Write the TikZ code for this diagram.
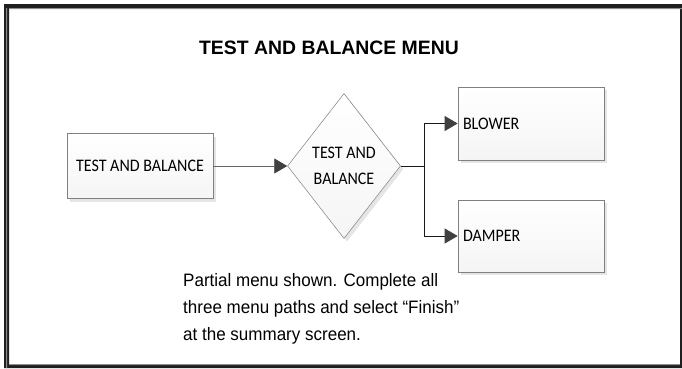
\documentclass[tikz,border=0pt]{standalone}
\usepackage{fontspec}
\setmainfont{Liberation Sans}
\newfontfamily\boxfont[FakeStretch=0.91]{Carlito}
\newfontfamily\notefont[FakeStretch=0.945]{Liberation Sans}
\usetikzlibrary{arrows.meta,shapes.geometric,shadows}
\tikzset{
  x=1pt,y=-1pt,
  softshadow/.style={general shadow={shadow xshift=3pt,shadow yshift=-3pt,fill=black!10,draw=none}},
  boxbase/.style={draw=black!50,line width=0.7pt,top color=white,bottom color=black!4,minimum width=146pt,inner sep=0pt,softshadow,font=\boxfont\fontsize{17.6}{19}\selectfont,text=black},
  flowtip/.style={-{Triangle[length=13pt,width=15pt,color=black!75]}},
  conn/.style={draw=black!90,line width=0.9pt},
}
\begin{document}
\begin{tikzpicture}
\useasboundingbox (0,0) rectangle (682,368);
\fill[white] (0,0) rectangle (682,368);
\fill[black!88] (4,4) rectangle (682,8) (4,4) rectangle (9,368) (4,365) rectangle (682,368) (680,4) rectangle (682,368);
\fill[black!45] (6,8) rectangle (7.2,368) (9,8) rectangle (682,9) (9,364) rectangle (680,365);
\node[font=\bfseries\fontsize{19.4}{23}\selectfont] (title) at (329,48) {TEST AND BALANCE MENU};
\node[boxbase,minimum height=65pt] (tb) at (140,166) {TEST AND BALANCE};
\node[diamond,aspect=0.78,inner sep=0pt,minimum width=113pt,minimum height=145pt,draw=black!50,line width=0.5pt,top color=white,bottom color=black!4,softshadow,align=center,font=\boxfont\fontsize{17.6}{26}\selectfont,text=black] (dia) at (344,166) {TEST AND\\BALANCE};
\node[boxbase,minimum height=73pt,text width=136pt,align=left] (blower) at (531,123.5) {BLOWER};
\node[boxbase,minimum height=72pt,text width=136pt,align=left] (damper) at (531,236) {DAMPER};
\draw[conn,draw=black!60,flowtip] (tb.east) -- (dia.west);
\coordinate (branch) at (424,166);
\draw[conn] (dia.east) -- (branch);
\draw[conn,flowtip] (branch) |- (blower.west);
\draw[conn,flowtip] (branch) |- (damper.west);
\node[anchor=north west,inner sep=0pt,align=left,font=\notefont\fontsize{18}{26.9}\selectfont,text=black] (note) at (183,273.5) {Partial menu shown. Complete all\\three menu paths and select “Finish”\\at the summary screen.};
\end{tikzpicture}
\end{document}
